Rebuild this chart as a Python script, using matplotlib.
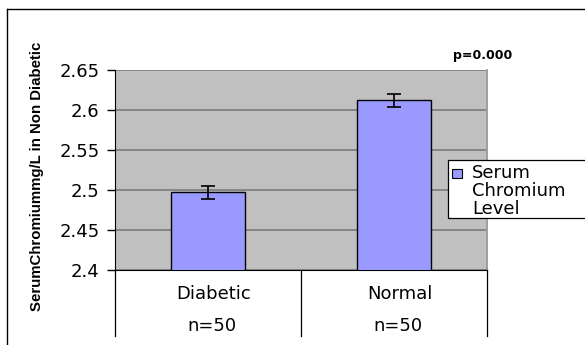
import matplotlib
matplotlib.use("Agg")
import matplotlib.pyplot as plt
from matplotlib.lines import Line2D
from matplotlib.patches import Rectangle
import matplotlib.transforms as mtransforms

categories = ["Diabetic", "Normal"]
sample_sizes = ["n=50", "n=50"]
values = [2.497, 2.612]
errors = [0.008, 0.008]
yticks = [2.4, 2.45, 2.5, 2.55, 2.6, 2.65]
ytick_labels = ["2.4", "2.45", "2.5", "2.55", "2.6", "2.65"]
series_name = "Serum\nChromium\nLevel"
ylabel = "SerumChromiummg/L in Non Diabetic"
p_text = "p=0.000"

BAR_COLOR = "#9999FF"
plt.rcParams['font.family'] = ['DejaVu Sans']

W, H = 585, 345
fig = plt.figure(figsize=(W / 100, H / 100), dpi=100)
fig.patch.set_facecolor("white")

L, R, T, B = 115, 487, 70, 270
ax = fig.add_axes([L / W, 1 - B / H, (R - L) / W, (B - T) / H])
ax.set_facecolor("#C0C0C0")

x = list(range(len(categories)))
ax.bar(x, values, width=0.4, color=BAR_COLOR, edgecolor="black", linewidth=1.0, zorder=3,
       label=series_name)
ax.errorbar(x, values, yerr=errors, fmt="none", ecolor="black", elinewidth=1.2,
            capsize=5, capthick=1.2, zorder=4)

ax.set_xlim(-0.5, 1.5)
ax.set_ylim(2.4, 2.65)
ax.set_yticks(yticks)
ax.set_yticklabels(ytick_labels, fontsize=13)
ax.set_xticks([])
ax.tick_params(axis="y", length=6, width=1, color="black", pad=5)
ax.yaxis.grid(True, color="#808080", linewidth=1.3, zorder=1)
ax.set_axisbelow(True)
ax.spines["top"].set_visible(False)
ax.spines["right"].set_color("#999999")
ax.spines["right"].set_linewidth(1.3)
ax.spines["left"].set_color("black")
ax.spines["bottom"].set_color("black")

# category table below axis
trans = mtransforms.blended_transform_factory(ax.transData, fig.transFigure)
for xb in [-0.5, 0.5, 1.5]:
    fig.add_artist(Line2D([xb, xb], [1 - 270 / H, 1 - 336 / H], transform=trans,
                          color="black", linewidth=0.9, clip_on=False))
for i, (c, n) in enumerate(zip(categories, sample_sizes)):
    fig.text(i + 0.03, 1 - 294 / H, c, transform=trans, ha="center", va="center", fontsize=13)
    fig.text(i + 0.02, 1 - 326 / H, n, transform=trans, ha="center", va="center", fontsize=13)

# outer frame
fig.add_artist(Line2D([7 / W, 7 / W], [1 - 9 / H, 0], transform=fig.transFigure,
                      color="black", linewidth=1.0))
fig.add_artist(Line2D([7 / W, 1], [1 - 9 / H, 1 - 9 / H], transform=fig.transFigure,
                      color="black", linewidth=1.0))

# y label
fig.text(37 / W, 1 - 176 / H, ylabel, rotation=90, ha="center", va="center",
         fontsize=10.8, fontweight="bold", family=['Liberation Sans Narrow', 'Liberation Sans'])

# p value
fig.text(483 / W, 1 - 56 / H, p_text, ha="center", va="center", fontsize=9, fontweight="bold")

# legend box (extends past right edge), handle aligned with first text line
fig.add_artist(Rectangle((448 / W, 1 - 218 / H), 200 / W, 58 / H, transform=fig.transFigure,
                         facecolor="white", edgecolor="black", linewidth=0.9, zorder=5))
fig.add_artist(Rectangle((452 / W, 1 - 178 / H), 10 / W, 9 / H, transform=fig.transFigure,
                         facecolor=BAR_COLOR, edgecolor="black", linewidth=0.8, zorder=6))
fig.text(472 / W, 1 - 191 / H, series_name, ha="left", va="center", fontsize=13,
         linespacing=1.0, zorder=6)

fig.savefig("out.png", dpi=100)
